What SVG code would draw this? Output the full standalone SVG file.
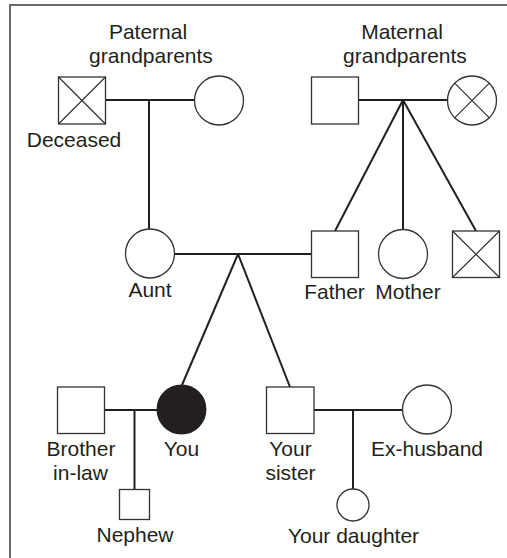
<svg xmlns="http://www.w3.org/2000/svg" width="507" height="558" viewBox="0 0 507 558">
<style>
.bg{fill:#fff}
.frame{stroke:#6a6a6a;stroke-width:2;fill:none}
.sym{fill:#fff;stroke:#333;stroke-width:1.3}
.fill{fill:#231f20;stroke:#231f20;stroke-width:1.3}
.x{stroke:#333;stroke-width:1.2;fill:none}
.con{stroke:#231f20;stroke-width:2;fill:none}
text{font-family:"Liberation Sans",Arial,Helvetica,sans-serif;font-size:21px;fill:#231f20;text-anchor:middle}
</style>
<rect class="bg" x="0" y="0" width="507" height="558"/>
<path class="frame" d="M10,558 V5 H507"/>
<g id="connectors">
<line class="con" x1="105" y1="100" x2="195" y2="100"/>
<line class="con" x1="149" y1="100" x2="149" y2="229"/>
<line class="con" x1="358" y1="100" x2="448" y2="100"/>
<line class="con" x1="403" y1="100" x2="335" y2="231"/>
<line class="con" x1="403" y1="100" x2="403" y2="229.5"/>
<line class="con" x1="403" y1="100" x2="476" y2="231"/>
<line class="con" x1="174.5" y1="254" x2="311" y2="254"/>
<line class="con" x1="238" y1="254" x2="182" y2="385"/>
<line class="con" x1="238" y1="254" x2="290" y2="387"/>
<line class="con" x1="104" y1="410" x2="158" y2="410"/>
<line class="con" x1="134.5" y1="410" x2="134.5" y2="489.5"/>
<line class="con" x1="314" y1="410" x2="403" y2="410"/>
<line class="con" x1="353" y1="410" x2="353" y2="489"/>
</g>
<g id="paternal-label"><text x="148" y="39">Paternal</text><text x="151" y="63">grandparents</text></g>
<g id="maternal-label"><text x="402" y="39">Maternal</text><text x="405" y="63">grandparents</text></g>
<g id="paternal-grandfather">
<rect class="sym" x="58.5" y="77" width="47" height="47"/>
<path class="x" d="M58.5,77 L105.5,124 M105.5,77 L58.5,124"/>
<text x="74" y="147">Deceased</text>
</g>
<g id="paternal-grandmother"><circle class="sym" cx="219" cy="100.5" r="24.5"/></g>
<g id="maternal-grandfather"><rect class="sym" x="311.5" y="77" width="47" height="47"/></g>
<g id="maternal-grandmother">
<circle class="sym" cx="472" cy="100.5" r="24.5"/>
<path class="x" d="M454.7,83.2 L489.3,117.8 M489.3,83.2 L454.7,117.8"/>
</g>
<g id="aunt"><circle class="sym" cx="150" cy="253.5" r="24.5"/><text x="150" y="297">Aunt</text></g>
<g id="father"><rect class="sym" x="311.5" y="231" width="47" height="46.5"/><text x="334.5" y="299">Father</text></g>
<g id="mother"><circle class="sym" cx="403" cy="254" r="24.5"/><text x="408" y="299">Mother</text></g>
<g id="deceased-uncle">
<rect class="sym" x="452.5" y="231" width="47" height="46.5"/>
<path class="x" d="M452.5,231 L499.5,277.5 M499.5,231 L452.5,277.5"/>
</g>
<g id="brother-in-law"><rect class="sym" x="57.5" y="387" width="47" height="46.5"/><text x="81" y="456">Brother</text><text x="80.5" y="480">in-law</text></g>
<g id="you"><circle class="fill" cx="181.5" cy="409.5" r="24.3"/><text x="181.5" y="456">You</text></g>
<g id="nephew"><rect class="sym" x="119.5" y="489.5" width="30" height="30"/><text x="135" y="542">Nephew</text></g>
<g id="your-sister"><rect class="sym" x="266.5" y="387" width="47.5" height="46.5"/><text x="290.5" y="456">Your</text><text x="290.5" y="480">sister</text></g>
<g id="ex-husband"><circle class="sym" cx="427" cy="409.5" r="24.5"/><text x="427" y="456">Ex-husband</text></g>
<g id="your-daughter"><circle class="sym" cx="353" cy="505" r="16"/><text x="353.5" y="542.5">Your daughter</text></g>
</svg>
